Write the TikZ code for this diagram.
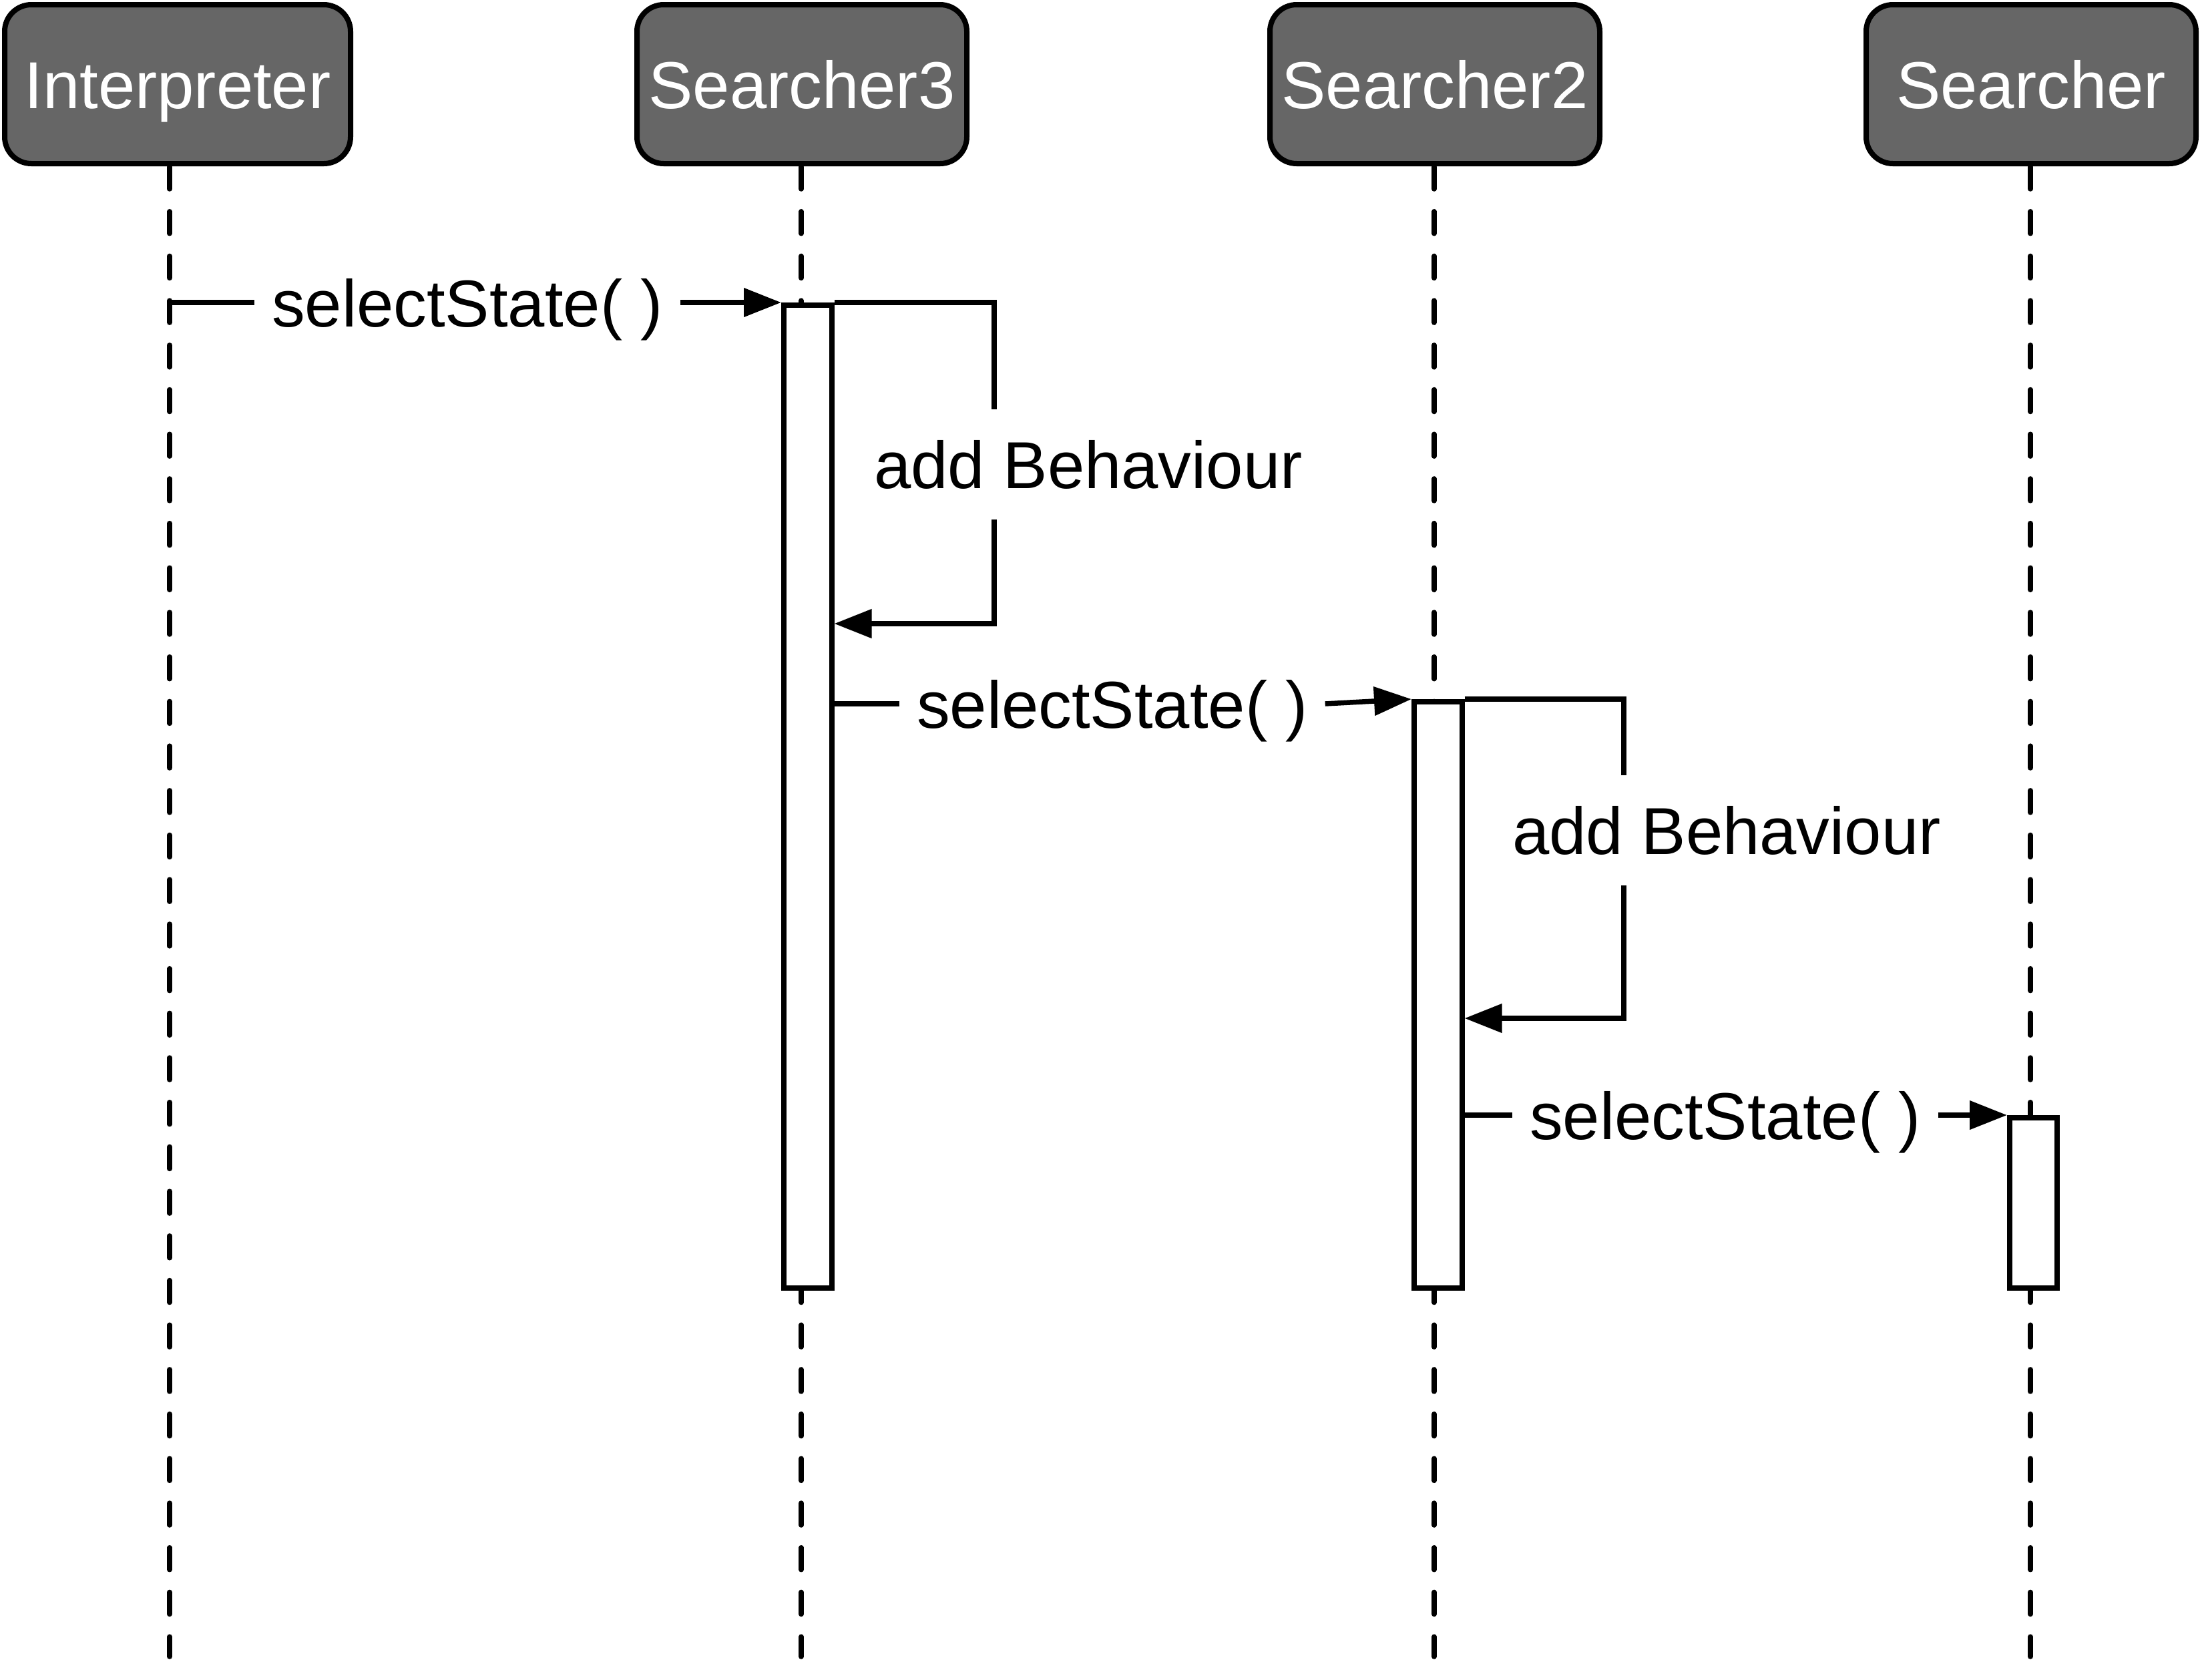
\documentclass[tikz,border=0pt]{standalone}
\usepackage{fontspec}
\setmainfont{Liberation Sans}
\usetikzlibrary{arrows.meta}
\definecolor{boxgray}{HTML}{666666}

\begin{document}
\begin{tikzpicture}[
	font=\fontsize{28.3}{34}\selectfont,
	obj/.style={draw,line width=0.08cm,rounded corners=0.4cm,fill=boxgray,text=white,minimum height=2.38cm,minimum width=4.94cm,inner sep=0,text height=0.72cm,text depth=0cm},
	life/.style={line width=0.075cm,line cap=round,dash pattern=on 0.33cm off 0.337cm,dash phase=0.657cm},
	act/.style={draw,line width=0.075cm,fill=white,inner sep=0,anchor=north west,minimum width=0.72cm},
	msg/.style={line width=0.075cm},
	call/.style={msg,-{Triangle[length=0.56cm,width=0.42cm]}},
	txt/.style={text height=0.72cm,text depth=0cm,inner xsep=0.25cm,inner ysep=0},
	selfloop/.style={txt,inner ysep=0.46cm}
]
	\useasboundingbox (0,0) rectangle (32.95,-25.16);
	\node[obj,minimum width=5.18cm] (interp) at (2.66,-1.26) {Interpreter};
	\node[obj] (s3) at (12.01,-1.26) {Searcher3};
	\node[obj] (s2) at (21.49,-1.26) {Searcher2};
	\node[obj] (s1) at (30.42,-1.26) {Searcher};
	\foreach \n/\x in {interp/2.54,s3/12.00,s2/21.48,s1/30.41}{
		\coordinate (e\n) at (\x,-24.81);
		\draw[life] (\n.south -| e\n) -- (e\n);
	}
	\node[act,minimum height=14.72cm] (a3) at (11.70,-4.53) {};
	\node[act,minimum height=8.78cm] (a2) at (21.14,-10.47) {};
	\node[act,minimum height=2.55cm,minimum width=0.71cm] (a1) at (30.06,-16.70) {};
	\node[txt] (m1) at (7.00,-4.53) {selectState( )};
	\draw[msg] (m1.west -| einterp) -- (m1.west);
	\draw[call] (m1.east) -- (a3.north west);
	\node[selfloop] (b1) at (16.30,-6.955) {add Behaviour};
	\coordinate (k1) at (14.89,-9.34);
	\draw[msg] (a3.north east) -| (k1 |- b1.north);
	\draw[call] (k1 |- b1.south) -- (k1) -- (a3.east |- k1);
	\node[txt] (m2) at (16.66,-10.54) {selectState( )};
	\draw[msg] (a3.east |- m2.west) -- (m2.west);
	\draw[call] (m2.east) -- (a2.north west);
	\node[selfloop] (b2) at (25.86,-12.435) {add Behaviour};
	\coordinate (k2) at (24.32,-15.25);
	\draw[msg] (a2.north east) -| (k2 |- b2.north);
	\draw[call] (k2 |- b2.south) -- (k2) -- (a2.east |- k2);
	\node[txt] (m3) at (25.84,-16.70) {selectState( )};
	\draw[msg] (a2.east |- m3.west) -- (m3.west);
	\draw[call] (m3.east) -- (a1.north west);
\end{tikzpicture}
\end{document}
